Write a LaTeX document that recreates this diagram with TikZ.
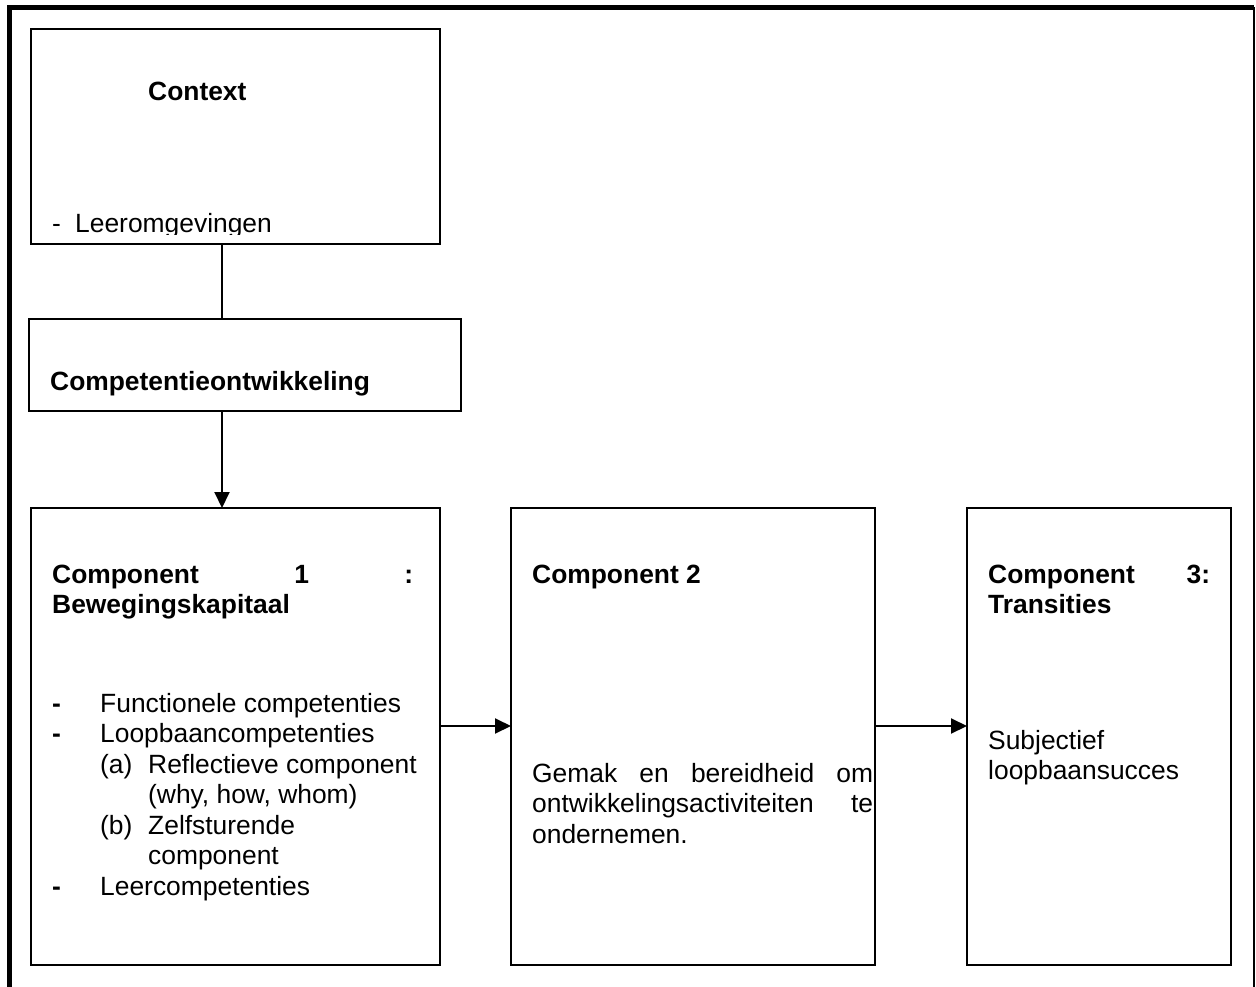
\documentclass[tikz,border=0pt]{standalone}
\usepackage{fontspec}
\setmainfont{Liberation Sans}
\usetikzlibrary{arrows.meta}
\tikzset{
  box/.style={draw, line width=1.8pt, outer sep=0pt, inner sep=0pt, rectangle},
  txt/.style={anchor=base west, inner sep=0pt, font=\fontsize{26.4}{30.5}\selectfont},
  btxt/.style={txt, font=\fontsize{26.4}{30.5}\selectfont\bfseries},
  conn/.style={line width=2pt},
  arr/.style={line width=2pt, -{Triangle[length=16pt,width=15pt]}},
  frame/.style={line width=5pt}
}
\begin{document}
\begin{tikzpicture}[x=1pt, y=-1pt]
\useasboundingbox (0,0) rectangle (1256,987);
% outer frame
\draw[frame] (9.5,987) -- (9.5,7.5) -- (1254,7.5);
\draw[line width=1.5pt] (1254,7.5) -- (1254,987);

% boxes
\node[box, minimum width=409pt, minimum height=215pt] (ctx) at (235.5,136.5) {};
\node[box, minimum width=432pt, minimum height=92pt] (comp) at (245,365) {};
\node[box, minimum width=409pt, minimum height=457pt] (c1) at (235.5,736.5) {};
\node[box, minimum width=364pt, minimum height=457pt] (c2) at (693,736.5) {};
\node[box, minimum width=264pt, minimum height=457pt] (c3) at (1099,736.5) {};

% context text
\node[btxt] (ctxtitle) at (148,101) {Context};
\begin{scope}
\clip (31,29) rectangle (440,235);
\node[txt] (ctxdash) at (52,232.5) {-};
\node[txt] (ctxitem) at (75,232.5) {Leeromgevingen};
\end{scope}

% competentie text
\node[btxt] (comptitle) at (50,390) {Competentieontwikkeling};

% component 1
\node[btxt] (c1h1) at (52,583) {\makebox[361pt][s]{Component 1 :}};
\node[btxt] (c1h2) at (52,613.5) {Bewegingskapitaal};
\node[btxt] (d1) at (52,712) {-};
\node[txt] (i1) at (100,712) {Functionele competenties};
\node[btxt] (d2) at (52,742.5) {-};
\node[txt] (i2) at (100,742.5) {Loopbaancompetenties};
\node[txt] (la) at (100,773) {(a)};
\node[txt] (ia) at (148,773) {Reflectieve component};
\node[txt] (ia2) at (148,803.5) {(why, how, whom)};
\node[txt] (lb) at (100,834) {(b)};
\node[txt] (ib) at (148,834) {Zelfsturende};
\node[txt] (ib2) at (148,864.5) {component};
\node[btxt] (d3) at (52,895) {-};
\node[txt] (i3) at (100,895) {Leercompetenties};

% component 2
\node[btxt] (c2h) at (532,583) {Component 2};
\node[txt] (c2t1) at (532,782) {\makebox[341pt][s]{Gemak en bereidheid om}};
\node[txt] (c2t2) at (532,812.5) {\makebox[341pt][s]{ontwikkelingsactiviteiten te}};
\node[txt] (c2t3) at (532,843) {ondernemen.};

% component 3
\node[btxt] (c3h1) at (988,583) {\makebox[222pt][s]{Component 3:}};
\node[btxt] (c3h2) at (988,613.5) {Transities};
\node[txt] (c3t1) at (988,749) {Subjectief};
\node[txt] (c3t2) at (988,779.5) {loopbaansucces};

% connectors
\coordinate (v) at (222,0);
\coordinate (h) at (0,726);
\draw[conn] (ctx.south -| v) -- (comp.north -| v);
\draw[arr] (comp.south -| v) -- (c1.north -| v);
\draw[arr] (c1.east |- h) -- (c2.west |- h);
\draw[arr] (c2.east |- h) -- (c3.west |- h);
\end{tikzpicture}
\end{document}
